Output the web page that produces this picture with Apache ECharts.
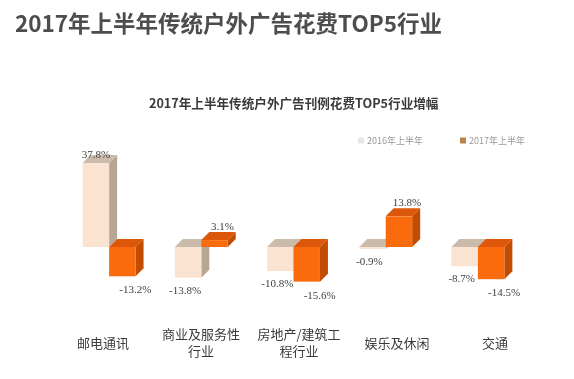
<!DOCTYPE html>
<html>
<head>
<meta charset="utf-8">
<script src="https://cdn.jsdelivr.net/npm/echarts@6/dist/echarts.min.js"></script>
<style>html,body{margin:0;padding:0;background:#fff}#c{width:574px;height:379px}</style>
</head>
<body>
<div id="c"></div>
<script>
var categories = ['邮电通讯', '商业及服务性\n行业', '房地产/建筑工\n程行业', '娱乐及休闲', '交通'];
var series2016 = [37.8, -13.8, -10.8, -0.9, -8.7];
var series2017 = [-13.2, 3.1, -15.6, 13.8, -14.5];
var seriesNames = ['2016年上半年', '2017年上半年'];

var palettes = [
  {front: '#FBE3D2', top: '#CBBBAA', side: '#B7A694', label: '#E6E6E6'},
  {front: '#FA6B0E', top: '#DC570A', side: '#C24C02', label: '#B8844F'}
];

function makeRender(si) {
  var pal = palettes[si];
  return function (params, api) {
    var idx = api.value(0), v = api.value(1);
    var base = api.coord([idx, 0]);
    var pt = api.coord([idx, v]);
    var bw = api.size([1, 0])[0] * 0.287;
    var d = 8;
    var cx = base[0];
    var x0 = si === 0 ? cx - bw : cx;
    var x1 = x0 + bw;
    var y0 = base[1], yv = pt[1];
    var yt = Math.min(y0, yv), yb = Math.max(y0, yv);
    var fc = (x0 + x1) / 2;
    var lx, ly;
    if (v >= 0) {
      lx = si === 0 ? fc : fc + 8;
      ly = si === 0 ? yt - 8 : yt - 13;
    } else {
      lx = si === 0 ? fc - 3 : fc + 13;
      ly = si === 0 ? yb + 13 : yb + 14;
    }
    return {
      type: 'group',
      children: [
        {type: 'polygon', shape: {points: [[x1, yt], [x1 + d, yt - d], [x1 + d, yb - d], [x1, yb]]}, style: {fill: pal.side}},
        {type: 'polygon', shape: {points: [[x0, yt], [x0 + d, yt - d], [x1 + d, yt - d], [x1, yt]]}, style: {fill: pal.top}},
        {type: 'rect', shape: {x: x0, y: yt, width: bw, height: Math.max(yb - yt, 0.5)}, style: {fill: pal.front}},
        {type: 'text', x: lx, y: ly, style: {text: v.toFixed(1) + '%', fill: '#404040', font: '11px "Liberation Serif", serif', align: 'center', verticalAlign: 'middle'}}
      ]
    };
  };
}

function toData(arr) { return arr.map(function (v, i) { return [i, v]; }); }

var chart = echarts.init(document.getElementById('c'), null, {renderer: 'canvas'});
chart.setOption({
  backgroundColor: '#fff',
  animation: false,
  title: [
    {text: '2017年上半年传统户外广告花费TOP5行业', left: 10, top: 7,
     textStyle: {fontSize: 22.5, fontWeight: 'bold', color: '#4d4d4d', fontFamily: '"Noto Sans CJK SC", sans-serif'}},
    {text: '2017年上半年传统户外广告刊例花费TOP5行业增幅', left: 144, top: 92,
     textStyle: {fontSize: 12.6, fontWeight: 'bold', color: '#3a3a3a', fontFamily: '"Noto Sans CJK SC", sans-serif'}}
  ],
  legend: {
    left: 353, top: 131, itemWidth: 6, itemHeight: 6, itemGap: 37, icon: 'rect',
    textStyle: {fontSize: 9, color: '#999', fontFamily: '"Noto Sans CJK SC", sans-serif', padding: [0, 0, 0, -2]},
    data: [
      {name: seriesNames[0], itemStyle: {color: palettes[0].label}},
      {name: seriesNames[1], itemStyle: {color: palettes[1].label}}
    ]
  },
  grid: [
    {left: 63, width: 461, top: 158.2, height: 133.2},
    {left: 54, width: 490, top: 300, height: 30}
  ],
  xAxis: [
    {type: 'category', gridIndex: 0, data: categories, show: false},
    {type: 'category', gridIndex: 1, data: categories, axisLine: {show: false}, axisTick: {show: false},
     axisLabel: {margin: 13, verticalAlign: 'middle', lineHeight: 17, fontSize: 13, color: '#3a3a3a', fontFamily: '"Noto Sans CJK SC", sans-serif', interval: 0}}
  ],
  yAxis: [
    {type: 'value', gridIndex: 0, min: -20, max: 40, show: false},
    {type: 'value', gridIndex: 1, show: false}
  ],
  series: [
    {name: seriesNames[0], type: 'custom', xAxisIndex: 0, yAxisIndex: 0, renderItem: makeRender(0), data: toData(series2016), itemStyle: {color: palettes[0].label}},
    {name: seriesNames[1], type: 'custom', xAxisIndex: 0, yAxisIndex: 0, renderItem: makeRender(1), data: toData(series2017), itemStyle: {color: palettes[1].label}}
  ]
});
</script>
</body>
</html>
